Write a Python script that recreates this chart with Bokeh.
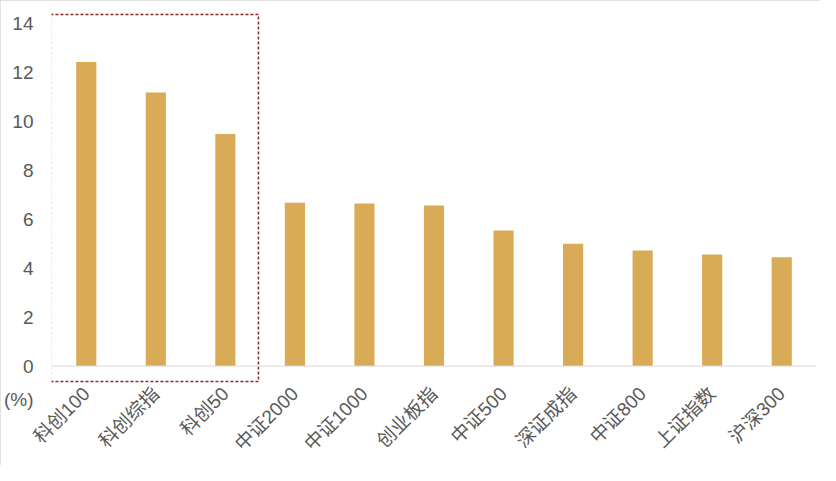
import math
from bokeh.plotting import figure
from bokeh.models import ColumnDataSource, FixedTicker, Span, Range1d, FactorRange
from bokeh.embed import file_html
from bokeh.resources import INLINE

categories = ["科创100", "科创综指", "科创50", "中证2000", "中证1000", "创业板指",
              "中证500", "深证成指", "中证800", "上证指数", "沪深300"]
values = [12.44, 11.2, 9.5, 6.68, 6.65, 6.57, 5.55, 5.0, 4.73, 4.56, 4.45]
y_ticks = [0, 2, 4, 6, 8, 10, 12, 14]
unit_label = "(%)"
unit_pos = -1.36
highlight_count = 3

src = ColumnDataSource(data=dict(cat=categories, val=values))

p = figure(width=820, height=465, x_range=FactorRange(*categories, range_padding=0),
           y_range=Range1d(-1.37, 14.47), output_backend="svg", toolbar_location=None,
           min_border_left=51, min_border_right=4, min_border_top=12, min_border_bottom=66)

p.vbar(x="cat", top="val", width=0.29, source=src, color="#D9AB57", line_color=None)

# baseline
p.add_layout(Span(location=0, dimension="width", line_color="#D9D9D9", line_width=1))

# dashed highlight box around first group
p.quad(left=[-0.015], right=[highlight_count - 0.024], bottom=[-0.63], top=[14.39],
       fill_color=None, line_color="#8B2A2A", line_width=1.5, line_dash="3 2")

p.grid.visible = False
p.outline_line_color = None
p.background_fill_color = "white"
p.border_fill_color = "white"

p.yaxis.ticker = FixedTicker(ticks=[unit_pos] + y_ticks)
p.yaxis.major_label_overrides = {unit_pos: unit_label}
p.yaxis.axis_line_color = None
p.yaxis.major_tick_line_color = None
p.yaxis.minor_tick_line_color = None
p.yaxis.major_label_text_font = "Liberation Sans"
p.yaxis.major_label_text_font_size = "19px"
p.yaxis.major_label_text_color = "#595959"
p.yaxis.major_label_standoff = 12

p.xaxis.axis_line_color = None
p.xaxis.major_tick_line_color = None
p.xaxis.minor_tick_line_color = None
p.xaxis.major_label_orientation = math.pi / 4
p.xaxis.major_label_text_font = "Liberation Sans, Noto Sans CJK SC"
p.xaxis.major_label_text_font_size = "19px"
p.xaxis.major_label_text_color = "#595959"
p.xaxis.major_label_standoff = -15

p.styles = {"outline": "2px solid #D9D9D9", "outline-offset": "-2px"}

open("out.html", "w").write(file_html(p, INLINE))
